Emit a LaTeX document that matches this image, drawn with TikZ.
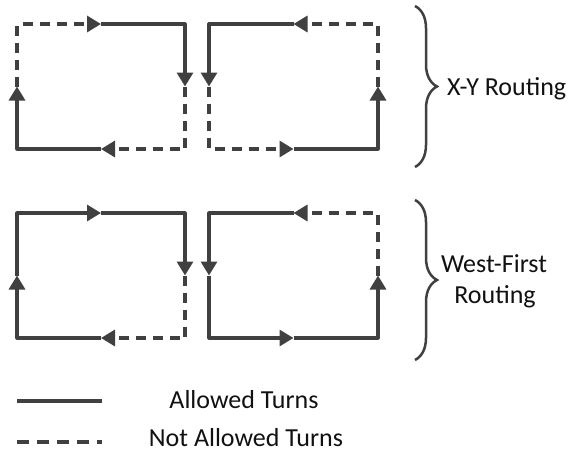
\documentclass[tikz,border=0pt]{standalone}
\usepackage{fontspec}
\setmainfont{Carlito}
\usetikzlibrary{arrows.meta,decorations.pathreplacing}
\definecolor{wire}{HTML}{404040}
\definecolor{ink}{HTML}{111111}

% corners and edge midpoints of one turn cell
\newcommand\cellcoords[5]{%
  \coordinate (#1tl) at (#2,#3);
  \coordinate (#1tr) at (#4,#3);
  \coordinate (#1br) at (#4,#5);
  \coordinate (#1bl) at (#2,#5);
  \coordinate (#1t) at ({(#2+#4)/2},#3);
  \coordinate (#1b) at ({(#2+#4)/2},#5);
  \coordinate (#1l) at (#2,{(#3+#5)/2});
  \coordinate (#1r) at (#4,{(#3+#5)/2});
}

\begin{document}
\begin{tikzpicture}[x=1pt,y=-1pt,
  turn/.style={draw=wire, line width=3.2pt, line join=round},
  allowed/.style={turn, -{Triangle[length=14pt,width=16pt]}},
  forbidden/.style={allowed, dash pattern=on 10pt off 7pt},
  legenddash/.style={turn, dash pattern=on 12pt off 8pt},
  bracket/.style={draw=wire, line width=2.5pt,
    decorate, decoration={brace, amplitude=22pt}},
  label/.style={text=ink, font=\fontsize{26}{31}\selectfont, inner sep=0pt}]

\useasboundingbox (0,0) rectangle (574,451);

% X-Y routing cells
\cellcoords{a}{17}{24}{185}{149}
\cellcoords{b}{209}{24}{378}{149}
\draw[forbidden] (al) -- (atl) -- (at);
\draw[allowed]   (at) -- (atr) -- (ar);
\draw[forbidden] (ar) -- (abr) -- (ab);
\draw[allowed]   (ab) -- (abl) -- (al);

\draw[forbidden] (br) -- (btr) -- (bt);
\draw[allowed]   (bt) -- (btl) -- (bl);
\draw[forbidden] (bl) -- (bbl) -- (bb);
\draw[allowed]   (bb) -- (bbr) -- (br);

% West-first routing cells
\cellcoords{c}{17}{213}{185}{338}
\cellcoords{d}{209}{213}{378}{338}
\draw[allowed]   (cl) -- (ctl) -- (ct);
\draw[allowed]   (ct) -- (ctr) -- (cr);
\draw[forbidden] (cr) -- (cbr) -- (cb);
\draw[allowed]   (cb) -- (cbl) -- (cl);

\draw[forbidden] (dr) -- (dtr) -- (dt);
\draw[allowed]   (dt) -- (dtl) -- (dl);
\draw[allowed]   (dl) -- (dbl) -- (db);
\draw[allowed]   (db) -- (dbr) -- (dr);

% braces and routing names
\coordinate (xytop) at (415,6);
\coordinate (xybot) at (415,167);
\coordinate (wftop) at (415,200);
\coordinate (wfbot) at (415,360);
\draw[bracket] (xytop) -- (xybot);
\draw[bracket] (wftop) -- (wfbot);
\node[label, anchor=base west] (xyname) at (447,95) {X-Y Routing};
\node[label, anchor=base] (wfname) at (494,272) {West-First};
\node[label, anchor=base] (wfname2) at (495,303) {Routing};

% legend
\coordinate (solidA) at (17,401);
\coordinate (solidB) at (102,401);
\coordinate (dashA) at (17,442);
\coordinate (dashB) at (102,442);
\draw[turn] (solidA) -- (solidB);
\draw[legenddash] (dashA) -- (dashB);
\node[label, anchor=base] (okname) at (244,408) {Allowed Turns};
\node[label, anchor=base] (noname) at (246,446) {Not Allowed Turns};
\end{tikzpicture}
\end{document}
